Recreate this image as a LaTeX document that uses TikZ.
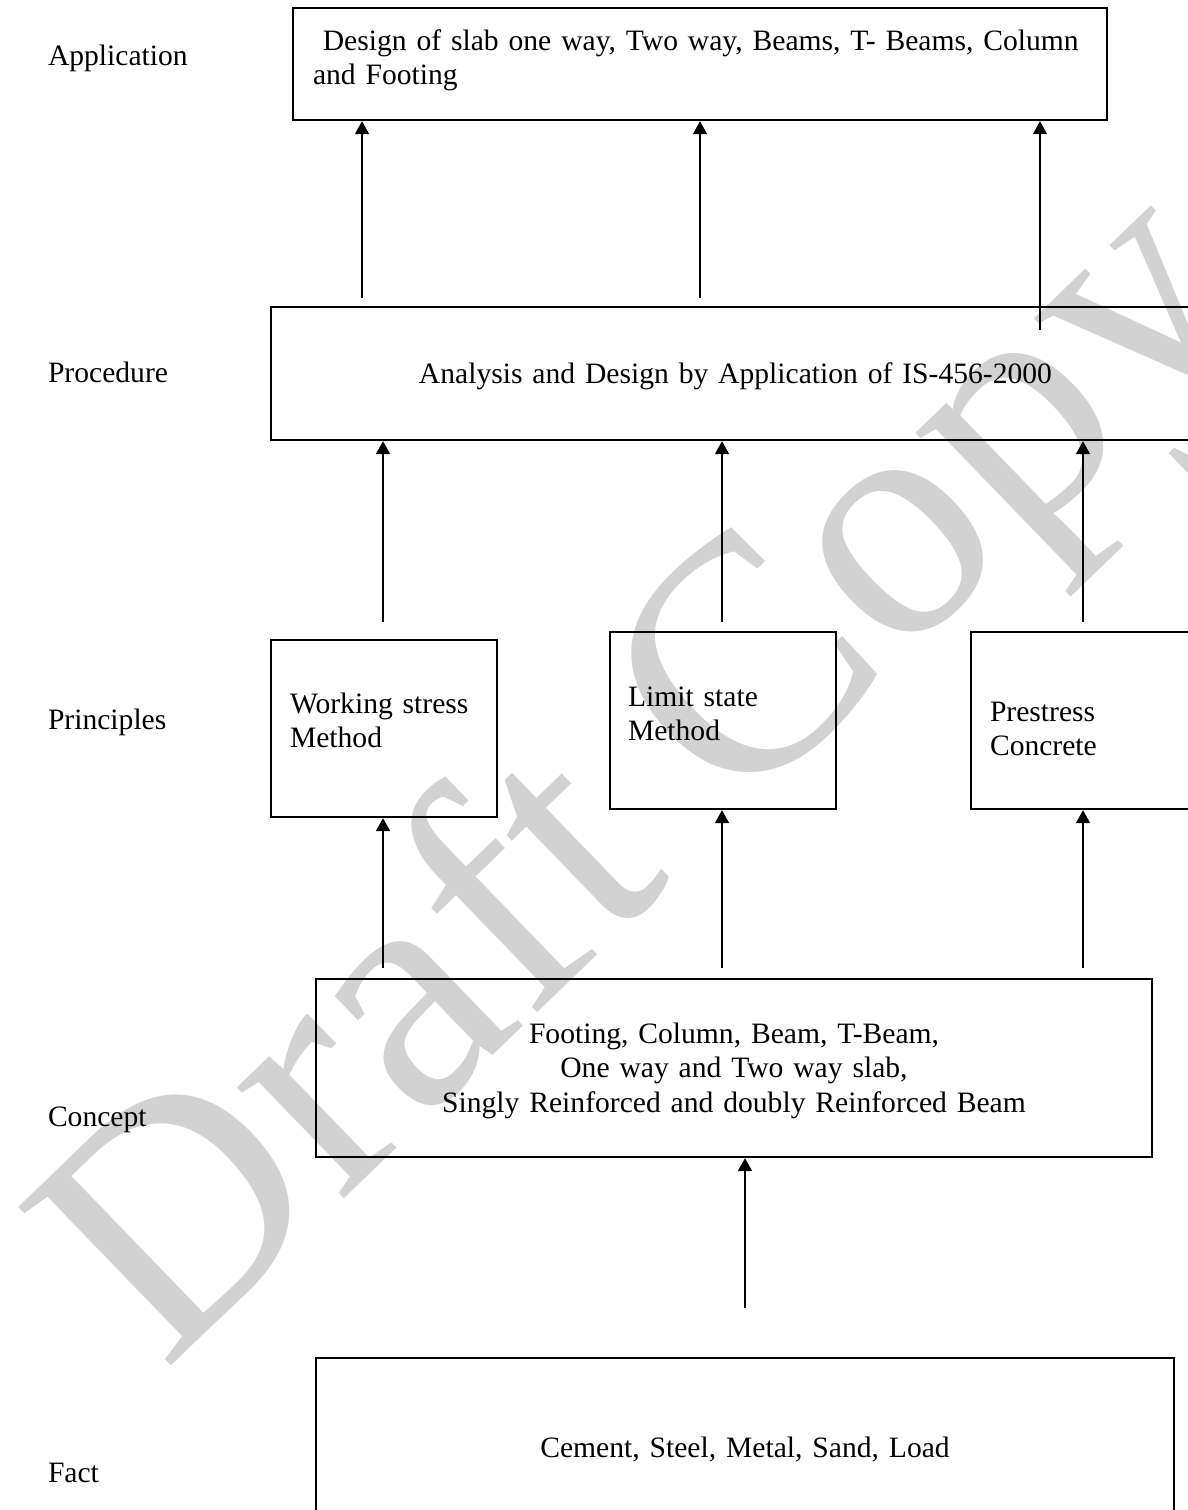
\documentclass[tikz,border=0pt]{standalone}
\usepackage{fontspec}
\setmainfont{Liberation Serif}
\usetikzlibrary{arrows.meta}
\usetikzlibrary{positioning}
\def\myfont{\fontsize{14.8pt}{17.25pt}\selectfont}
\def\mybigfont{\fontsize{168pt}{168pt}\selectfont}
\tikzset{
>={Triangle[length=6.5pt,width=7pt]}, % filled arrow heads
my box/.style={draw,line width=1.2pt,inner ysep=0pt,font=\myfont},
my left/.style={my box,align=left},
my centre/.style={my box,align=center,inner xsep=0pt},
my level/.style={anchor=base west,inner sep=0pt,font=\myfont},
my watermark/.style={text=gray!35,rotate=44,inner sep=0pt,font=\mybigfont}
}

\begin{document}
\begin{tikzpicture}[x=0.5pt,y=-0.5pt,line width=1pt]
\useasboundingbox (0,0) rectangle (1188,1510);
\node[my watermark] (draft) at (655,785) {Draft Copy};
% levels on the left
\node[my level] (lapp) at (47,65) {Application};
\node[my level] (lpro) at (47,382) {Procedure};
\node[my level] (lpri) at (47,729) {Principles};
\node[my level] (lcon) at (47,1126) {Concept};
\node[my level] (lfac) at (47,1482) {Fact};
% boxes
\node[my left,text width=387pt,inner xsep=10pt,text height=21pt,text depth=35pt] (app) at (700,64)
  {\mbox{\ Design of slab one way, Two way, Beams, T- Beams, Column}\\and Footing};
\node[my centre,text width=464.5pt,text height=38pt,text depth=28.5pt] (pro) at (735.5,373.5)
  {Analysis and Design by Application of IS-456-2000};
\node[my left,text width=94pt,inner xsep=9.5pt,text height=36.5pt,text depth=52pt] (wsm) at (384,728.5)
  {Working stress\\Method};
\node[my left,text width=95pt,inner xsep=9pt,text height=37pt,text depth=51.5pt] (lsm) at (723,720.5)
  {Limit state\\Method};
\node[my left,text width=95.5pt,inner xsep=9.5pt,text height=44.5pt,text depth=44pt] (psc) at (1085.5,720.5)
  {Prestress\\Concrete};
\node[my centre,text width=418pt,text height=32pt,text depth=57pt] (con) at (734,1068)
  {Footing, Column, Beam, T-Beam,\\One way and Two way slab,\\Singly Reinforced and doubly Reinforced Beam};
\node[my centre,text width=429pt,text height=49.5pt,text depth=41.5pt] (fac) at (745,1449)
  {Cement, Steel, Metal, Sand, Load};
% arrow tails
\coordinate (u1) at (362,298);
\coordinate (u2) at (700,298);
\coordinate (u3) at (1040,330);
\coordinate (m1) at (383,622);
\coordinate (m2) at (722,622);
\coordinate (m3) at (1083,622);
\coordinate (c1) at (383,968);
\coordinate (c2) at (722,968);
\coordinate (c3) at (1083,968);
\coordinate (f1) at (745,1308);
\path[->]
  (u1) edge (u1 |- app.south)
  (u2) edge (u2 |- app.south)
  (u3) edge (u3 |- app.south)
  (m1) edge (m1 |- pro.south)
  (m2) edge (m2 |- pro.south)
  (m3) edge (m3 |- pro.south)
  (c1) edge (c1 |- wsm.south)
  (c2) edge (c2 |- lsm.south)
  (c3) edge (c3 |- psc.south)
  (f1) edge (f1 |- con.south);
\end{tikzpicture}
\end{document}
